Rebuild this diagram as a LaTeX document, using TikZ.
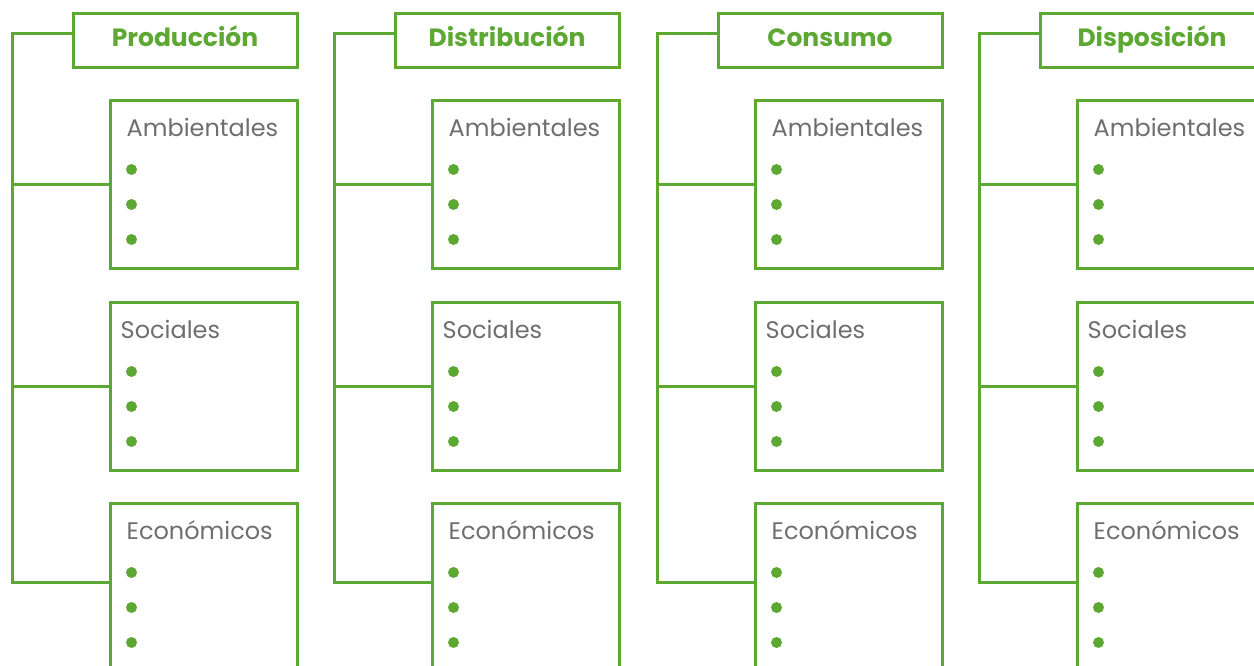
\documentclass[tikz,border=0pt]{standalone}
\usepackage{fontspec}
\setmainfont{Poppins}
\definecolor{lgreen}{HTML}{5DA733}
\definecolor{tgray}{HTML}{6E6E6E}
\begin{document}
\begin{tikzpicture}[x=1pt,y=-1pt,
  conn/.style={draw=lgreen,line width=3pt},
  hdrbox/.style={draw=lgreen,line width=3pt,minimum width=224pt,minimum height=54pt,inner sep=0pt,
    text height=16pt,text depth=4pt,
    font=\fontsize{25}{30}\selectfont\bfseries,text=lgreen},
  catbox/.style={draw=lgreen,line width=3pt,minimum width=187pt,minimum height=168pt,inner sep=0pt},
  cattext/.style={anchor=base west,font=\fontsize{24}{28}\selectfont,text=tgray,inner sep=0pt},
  dot/.style={circle,fill=lgreen,minimum size=11pt,inner sep=0pt}]
\clip (0,0) rectangle (1254,665);
\foreach \i/\ox/\name in {1/0/Producción,2/322/Distribución,3/645/Consumo,4/967/Disposición}{
  \begin{scope}[xshift=\ox pt]
    \node[hdrbox] (h\i) at (185,40) {\name};
    \node[catbox] (a\i) at (203.5,184) {};
    \node[catbox] (s\i) at (203.5,386) {};
    \node[catbox] (e\i) at (203.5,587) {};
    \node[cattext] (at\i) at ([shift={(18,38)}]a\i.north west) {Ambientales};
    \node[cattext] (st\i) at ([shift={(12,38)}]s\i.north west) {Sociales};
    \node[cattext] (et\i) at ([shift={(18,38)}]e\i.north west) {Económicos};
    \foreach \b/\yy in {a/71,s/71,e/71}{
      \node[dot] (\b d1\i) at ([shift={(23,\yy)}]\b\i.north west) {};
      \node[dot] (\b d2\i) at ([shift={(23,\yy+35)}]\b\i.north west) {};
      \node[dot] (\b d3\i) at ([shift={(23,\yy+70)}]\b\i.north west) {};
    }
    \coordinate (ttop\i) at (12,33);
    \coordinate (tbot\i) at (12,582);
    \coordinate (ta\i) at (12,184);
    \coordinate (ts\i) at (12,386);
    \draw[conn] ([yshift=7pt]h\i.west) -- (ttop\i) -- (tbot\i) -- ([yshift=5pt]e\i.west);
    \draw[conn] (ta\i) -- (a\i.west);
    \draw[conn] (ts\i) -- (s\i.west);
  \end{scope}
}
\end{tikzpicture}
\end{document}
